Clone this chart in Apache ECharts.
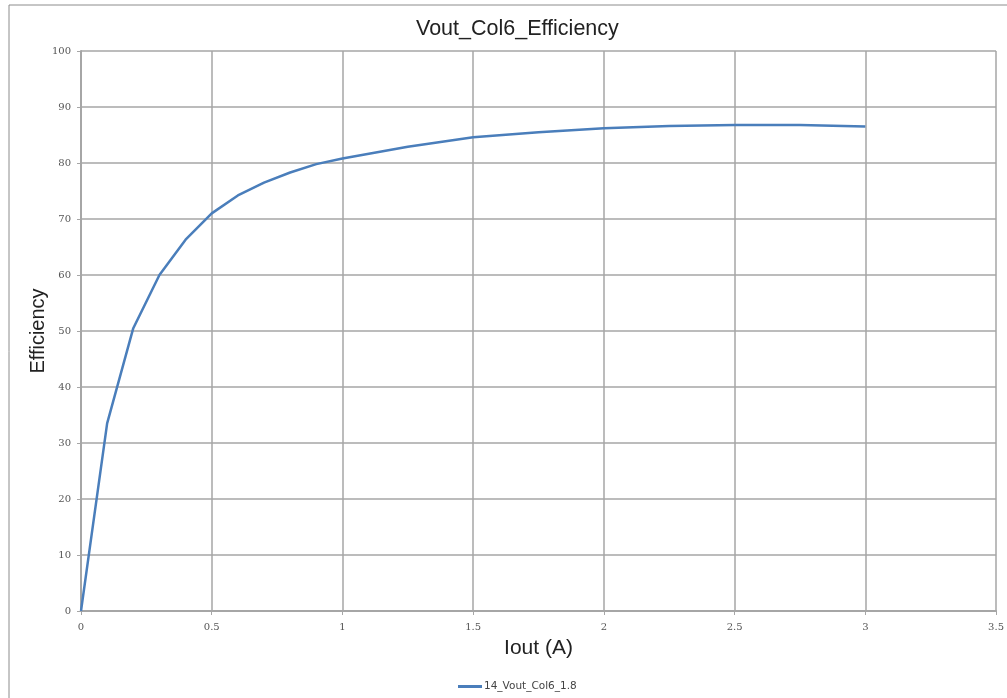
<!DOCTYPE html>
<html>
<head>
<meta charset="utf-8">
<script src="https://cdn.jsdelivr.net/npm/echarts@6/dist/echarts.min.js"></script>
<style>html,body{margin:0;padding:0;background:#fff;}#c{width:1007px;height:698px;}</style>
</head>
<body>
<div id="c"></div>
<script>
const iout = [0, 0.1, 0.2, 0.3, 0.4, 0.5, 0.6, 0.7, 0.8, 0.9, 1.0, 1.25, 1.5, 1.75, 2.0, 2.25, 2.5, 2.75, 3.0];
const efficiency = [0, 33.5, 50.5, 60, 66.3, 71, 74.2, 76.5, 78.3, 79.8, 80.8, 82.9, 84.6, 85.5, 86.2, 86.6, 86.8, 86.8, 86.5];
const seriesName = '14_Vout_Col6_1.8';
const titleText = 'Vout_Col6_Efficiency';
const xName = 'Iout (A)';
const yName = 'Efficiency';

const chart = echarts.init(document.getElementById('c'));
chart.setOption({
  animation: false,
  backgroundColor: '#ffffff',
  graphic: [
    { type: 'line', shape: { x1: 9, y1: 5, x2: 1007, y2: 5 }, style: { stroke: '#8c8c8c', lineWidth: 1 } },
    { type: 'line', shape: { x1: 9, y1: 5, x2: 9, y2: 698 }, style: { stroke: '#8c8c8c', lineWidth: 1 } }
  ],
  title: {
    text: titleText,
    left: 411,
    top: 13,
    textStyle: { fontFamily: 'Liberation Sans', fontWeight: 'normal', fontSize: 21.5, color: '#222' }
  },
  legend: {
    top: 676,
    left: 453,
    itemWidth: 24,
    itemHeight: 3,
    itemGap: 4,
    icon: 'rect',
    textStyle: { fontFamily: 'DejaVu Sans', fontSize: 10.5, color: '#444', padding: [0, 0, 0, -3] },
    data: [seriesName]
  },
  grid: { left: 81, right: 9, top: 51, bottom: 87, containLabel: false },
  xAxis: {
    type: 'value',
    min: 0, max: 3.5, interval: 0.5,
    name: xName,
    nameLocation: 'middle',
    nameGap: 27,
    nameTextStyle: { fontFamily: 'Liberation Sans', fontSize: 21, color: '#222' },
    axisLine: { show: true, lineStyle: { color: '#a6a6a6', width: 2 } },
    axisTick: { show: true, length: 4, lineStyle: { color: '#a6a6a6' } },
    axisLabel: { fontFamily: 'DejaVu Serif', fontSize: 10, color: '#555', margin: 11 },
    splitLine: { show: true, lineStyle: { color: '#a6a6a6', width: 1.5 } }
  },
  yAxis: {
    type: 'value',
    min: 0, max: 100, interval: 10,
    name: yName,
    nameLocation: 'middle',
    nameGap: 33,
    nameMoveOverlap: false,
    nameTextStyle: { fontFamily: 'Liberation Sans', fontSize: 20, color: '#222' },
    axisLine: { show: true, lineStyle: { color: '#a6a6a6', width: 2 } },
    axisTick: { show: true, length: 4, lineStyle: { color: '#a6a6a6' } },
    axisLabel: { fontFamily: 'DejaVu Serif', fontSize: 10, color: '#555', margin: 10 },
    splitLine: { show: true, lineStyle: { color: '#a6a6a6', width: 1.5 } }
  },
  series: [{
    name: seriesName,
    type: 'line',
    data: iout.map((x, i) => [x, efficiency[i]]),
    showSymbol: false,
    smooth: false,
    lineStyle: { color: '#4a7ebb', width: 2.5 },
    itemStyle: { color: '#4a7ebb' }
  }]
});
</script>
</body>
</html>
